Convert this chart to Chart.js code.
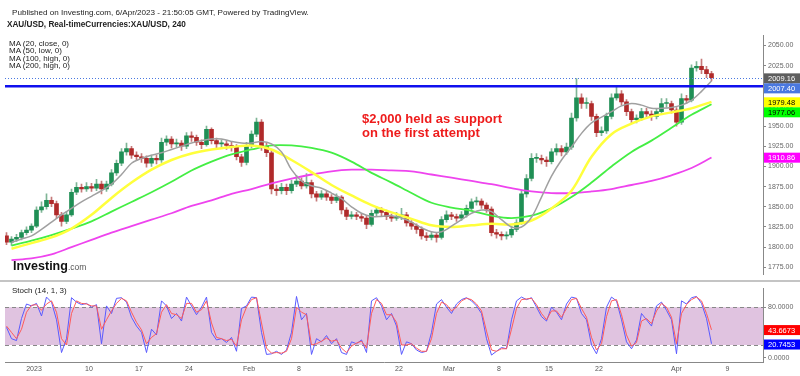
<!DOCTYPE html>
<html>
<head>
<meta charset="utf-8">
<script src="https://cdn.jsdelivr.net/npm/chart.js@4.4.0/dist/chart.umd.min.js"></script>
<style>
  body { margin: 0; background: #fff; width: 800px; height: 376px; overflow: hidden; position: relative; font-family: "Liberation Sans", Arial, sans-serif; }
  canvas { position: absolute; left: 0; }
  .t { position: absolute; white-space: nowrap; color: #222; }
  .ma { font-size: 8px; line-height: 7.3px; }
  .note { color: #ee1c1c; font-weight: bold; font-size: 13px; line-height: 14.3px; }
  .sep { position: absolute; left: 0; top: 280px; width: 800px; height: 2px; background: #c4c4c4; }
</style>
</head>
<body>
<canvas id="main" width="800" height="281" style="top:0"></canvas>
<div class="sep"></div>
<canvas id="stoch" width="800" height="94" style="top:282px"></canvas>

<div class="t" style="left:12px;top:8px;font-size:8.1px">Published on Investing.com, 6/Apr/2023 - 21:50:05 GMT, Powered by TradingView.</div>
<div class="t" style="left:7px;top:20px;font-size:8.2px;font-weight:bold">XAU/USD, Real-timeCurrencies:XAU/USD, 240</div>
<div class="t ma" style="left:9px;top:40px">MA (20, close, 0)<br>MA (50, low, 0)<br>MA (100, high, 0)<br>MA (200, high, 0)</div>
<div class="t note" style="left:362px;top:112px">$2,000 held as support<br>on the first attempt</div>
<div class="t" style="left:13px;top:259px;font-size:12.5px;font-weight:bold;color:#111">Investing<span style="font-size:8.5px;font-weight:normal;color:#555">.com</span></div>
<div class="t" style="left:12px;top:286px;font-size:8px">Stoch (14, 1, 3)</div>

<script>
// 12h candles (index 0 = 29 Dec 2022 ... 141 = 6 Apr 2023)
const firstOpen = 1814;
const closes = [1806,1810,1812,1818,1821,1826,1846,1850,1858,1854,
  1840,1832,1840,1868,1874,1872,1875,1873,1878,1872,
  1878,1892,1904,1918,1922,1914,1912,1910,1904,1910,
  1908,1930,1934,1928,1929,1925,1938,1936,1930,1927,
  1946,1932,1928,1928,1926,1924,1912,1905,1926,1940,
  1955,1925,1917,1872,1870,1874,1870,1878,1882,1876,
  1880,1866,1862,1866,1862,1858,1862,1846,1838,1840,
  1838,1836,1828,1842,1846,1843,1838,1836,1838,1840,
  1830,1826,1822,1814,1812,1815,1812,1834,1840,1838,
  1836,1840,1848,1856,1857,1852,1847,1818,1816,1814,
  1815,1822,1830,1866,1885,1910,1910,1908,1906,1918,
  1922,1918,1924,1960,1985,1978,1978,1962,1942,1944,
  1962,1985,1990,1980,1968,1958,1960,1968,1965,1962,
  1968,1978,1978,1970,1955,1984,1982,2022,2024,2020,
  2015,2010];
const highs = [1818,1813,1816,1821,1825,1829,1850,1856,1866,1862,
  1857,1843,1844,1872,1880,1878,1880,1879,1884,1882,
  1882,1896,1908,1922,1929,1925,1918,1916,1913,1914,
  1914,1935,1938,1937,1934,1932,1942,1943,1939,1933,
  1950,1948,1935,1933,1932,1930,1927,1915,1930,1944,
  1960,1958,1929,1920,1877,1879,1878,1883,1889,1886,
  1891,1883,1869,1870,1869,1865,1866,1864,1849,1844,
  1843,1842,1839,1846,1850,1849,1846,1841,1843,1848,
  1843,1833,1829,1825,1818,1819,1818,1838,1845,1843,
  1841,1844,1852,1860,1862,1860,1855,1850,1822,1819,
  1819,1826,1834,1870,1890,1916,1916,1914,1912,1922,
  1928,1926,1929,1966,2009,1990,1985,1981,1965,1949,
  1966,1990,2000,1994,1983,1971,1964,1972,1972,1969,
  1972,1984,1984,1981,1973,1990,1988,2026,2030,2033,
  2024,2018];
const lows = [1803,1802,1807,1809,1815,1818,1824,1843,1847,1850,
  1836,1826,1829,1838,1865,1868,1869,1869,1870,1866,
  1869,1876,1889,1901,1914,1910,1907,1905,1899,1900,
  1903,1905,1926,1923,1924,1920,1922,1931,1926,1922,
  1925,1928,1923,1924,1921,1919,1908,1900,1902,1923,
  1937,1920,1912,1866,1864,1866,1865,1867,1875,1872,
  1873,1861,1857,1859,1858,1854,1855,1841,1834,1835,
  1834,1832,1823,1826,1839,1839,1834,1832,1833,1834,
  1826,1822,1817,1810,1808,1809,1806,1810,1831,1834,
  1832,1833,1837,1845,1852,1848,1843,1814,1811,1809,
  1810,1812,1819,1828,1862,1882,1905,1903,1900,1903,
  1914,1913,1915,1921,1956,1972,1972,1957,1937,1938,
  1941,1959,1982,1976,1963,1953,1954,1957,1960,1957,
  1959,1965,1973,1966,1950,1952,1978,1980,2018,2015,
  2010,2006];

// moving averages: ma20 one value per day, the others one per two days
const ma20 = [1806,1810,1814,1822,1831,1840,1848,1856,1863,1870,
  1878,1890,1904,1910,1914,1917,1921,1925,1929,1932,
  1934,1934,1931,1929,1929,1931,1928,1918,1896,1882,
  1876,1873,1867,1860,1850,1842,1838,1838,1839,1836,
  1831,1824,1819,1819,1826,1834,1842,1846,1844,1834,
  1825,1825,1837,1862,1888,1908,1924,1941,1954,1961,
  1968,1975,1978,1976,1972,1972,1973,1976,1982,1993,
  2006];
const ma50 = [1798,1805,1812,1823,1840,1861,1880,1896,1908,1916,
  1921,1924,1926,1921,1908,1893,1877,1864,1852,1843,
  1835,1827,1825,1827,1829,1828,1833,1848,1870,1912,
  1940,1953,1962,1967,1972,1980];
const ma100 = [1802,1808,1815,1823,1832,1844,1856,1868,1881,1895,
  1906,1915,1921,1926,1926,1923,1917,1906,1892,1880,
  1867,1855,1849,1845,1839,1836,1839,1848,1862,1880,
  1900,1918,1932,1948,1964,1977];
const ma200 = [1784,1786,1791,1800,1809,1818,1826,1834,1842,1851,
  1858,1866,1872,1879,1885,1890,1894,1896,1896,1895,
  1894,1890,1886,1882,1878,1873,1869,1867,1867,1869,
  1872,1877,1882,1889,1898,1911];

// Stoch (14, 1, 3)
const stochK = [48,30,27,62,85,82,86,66,96,88,
  60,8,30,95,88,84,86,80,84,22,
  82,70,94,95,88,64,50,40,8,45,
  36,90,82,62,70,58,96,82,68,80,
  96,40,28,30,24,32,10,78,82,96,
  95,40,5,6,10,5,12,40,97,60,
  70,5,30,25,35,22,30,8,5,25,
  22,28,8,90,95,82,60,70,50,5,
  25,22,12,8,10,40,85,92,80,70,
  85,92,95,90,82,70,30,4,10,16,
  14,60,90,96,92,95,80,65,58,80,
  72,60,85,96,94,70,60,20,6,30,
  80,96,90,60,25,14,28,70,60,50,
  82,88,75,60,6,90,85,95,97,86,
  62,22];
const stochD = [50,40,30,45,72,83,84,75,85,90,
  72,30,20,70,90,86,85,82,82,45,
  60,74,86,94,90,72,56,44,22,32,
  38,72,84,70,68,62,86,86,72,76,
  90,55,32,30,27,29,18,60,80,92,
  95,55,15,7,8,7,10,30,80,72,
  68,20,22,26,31,26,28,15,8,18,
  23,26,15,70,92,86,68,68,56,20,
  20,22,15,10,10,30,70,88,84,74,
  80,90,94,92,85,74,42,12,10,14,
  14,45,78,92,93,94,84,70,60,74,
  74,64,78,92,94,78,64,32,12,22,
  65,90,92,68,36,18,24,58,62,54,
  74,86,80,64,22,70,84,92,96,90,
  70,44];

// date axis (positions in candle index units)
const tickLabels = ['2023','10','17','24','Feb','8','15','22','Mar','8','15','22','Apr','9'];
const tickIndex = [5.5,16.5,26.5,36.5,48.5,58.5,68.5,78.5,88.5,98.5,108.5,118.5,134,144.2];

const lastPrice = 2009.16;
const supportLine = 1999.5;
const supportLabel = 2007.40;
const ma50Last = 1979.48;
const ma100Last = 1977.06;
const ma200Last = 1910.86;
const stochDLast = 43.6673;
const stochKLast = 20.7453;

Chart.defaults.font.family = '"Liberation Sans", Arial, sans-serif';

const xMin = -0.3, xMax = 151.3;
const opens = closes.map((c, i) => i === 0 ? firstOpen : closes[i - 1]);
const up = i => closes[i] >= opens[i];
const maPoints = (arr, step) => arr.map((v, j) => ({ x: 1 + step * j, y: v }));

function drawTags(chart, tags) {
  const { ctx } = chart;
  const y = chart.scales.y;
  const placed = tags.map(t => ({ ...t, py: y.getPixelForValue(t.value) })).sort((a, b) => a.py - b.py);
  let prev = -100;
  ctx.save();
  ctx.font = '7.5px "Liberation Sans", Arial, sans-serif';
  ctx.textBaseline = 'middle';
  placed.forEach(t => {
    if (t.py < prev + 10) t.py = prev + 10;
    prev = t.py;
    ctx.fillStyle = t.bg;
    ctx.fillRect(y.left + 1, t.py - 5, 36, 10);
    ctx.fillStyle = t.fg;
    ctx.fillText(t.value.toFixed(t.digits), y.left + 5, t.py + 0.5);
  });
  ctx.restore();
}

const mainOverlay = {
  id: 'mainOverlay',
  afterDatasetsDraw(chart) {
    const { ctx, chartArea: a } = chart;
    const y = chart.scales.y;
    ctx.save();
    ctx.strokeStyle = '#4a78e0';
    ctx.lineWidth = 1;
    ctx.setLineDash([1, 2]);
    let py = Math.round(y.getPixelForValue(lastPrice)) + 0.5;
    ctx.beginPath(); ctx.moveTo(a.left, py); ctx.lineTo(a.right, py); ctx.stroke();
    ctx.setLineDash([]);
    ctx.strokeStyle = '#1010ee';
    ctx.lineWidth = 2.5;
    py = y.getPixelForValue(supportLine);
    ctx.beginPath(); ctx.moveTo(a.left, py); ctx.lineTo(a.right, py); ctx.stroke();
    ctx.restore();
  },
  afterDraw(chart) {
    drawTags(chart, [
      { value: lastPrice, digits: 2, bg: '#5e5e5e', fg: '#fff' },
      { value: supportLabel, digits: 2, bg: '#4a78e0', fg: '#fff' },
      { value: ma50Last, digits: 2, bg: '#ffff00', fg: '#000' },
      { value: ma100Last, digits: 2, bg: '#00ff00', fg: '#000' },
      { value: ma200Last, digits: 2, bg: '#ff00ff', fg: '#fff' }
    ]);
  }
};

const maLine = (data, color, width, order) => ({
  type: 'line', data, borderColor: color, borderWidth: width,
  pointRadius: 0, tension: 0.35, fill: false, order
});

new Chart(document.getElementById('main'), {
  type: 'bar',
  data: {
    datasets: [
      maLine(maPoints(ma20, 2), '#a0a0a0', 1.5, 1),
      maLine(maPoints(ma50, 4), '#ffff3c', 2.5, 2),
      maLine(maPoints(ma100, 4), '#44ee44', 1.8, 3),
      maLine(maPoints(ma200, 4), '#ee44ee', 1.8, 4),
      {
        data: closes.map((c, i) => ({ x: i, y: [opens[i], c] })),
        backgroundColor: ctx => up(ctx.dataIndex) ? '#1f8f55' : '#b02a2a',
        barThickness: 4, minBarLength: 1, grouped: false, order: 5
      },
      {
        data: closes.map((c, i) => ({ x: i, y: [lows[i], highs[i]] })),
        backgroundColor: ctx => up(ctx.dataIndex) ? '#7fb596' : '#c57a7a',
        barThickness: 1, grouped: false, order: 6
      }
    ]
  },
  options: {
    responsive: false,
    animation: false,
    layout: { padding: { left: 5, top: 35, right: 0, bottom: 0 } },
    plugins: { legend: { display: false }, tooltip: { enabled: false } },
    scales: {
      x: { type: 'linear', min: xMin, max: xMax, offset: false, display: false },
      y: {
        position: 'right', min: 1765.7, max: 2062.9,
        afterFit: s => { s.width = 37; },
        ticks: { stepSize: 25, includeBounds: false, padding: 2, color: '#666', font: { size: 7 }, callback: v => v.toFixed(2) },
        grid: { drawOnChartArea: false, tickLength: 3, color: '#888' },
        border: { color: '#888' }
      }
    }
  },
  plugins: [mainOverlay]
});

const stochOverlay = {
  id: 'stochOverlay',
  beforeDatasetsDraw(chart) {
    const { ctx, chartArea: a } = chart;
    const y = chart.scales.y;
    const y80 = y.getPixelForValue(80), y20 = y.getPixelForValue(20);
    ctx.save();
    ctx.fillStyle = '#e0c3e0';
    ctx.fillRect(a.left, y80, a.right - a.left, y20 - y80);
    ctx.strokeStyle = '#888';
    ctx.lineWidth = 1;
    ctx.setLineDash([4, 3]);
    [y80, y20].forEach(p => {
      const py = Math.round(p) + 0.5;
      ctx.beginPath(); ctx.moveTo(a.left, py); ctx.lineTo(a.right, py); ctx.stroke();
    });
    ctx.restore();
  },
  afterDraw(chart) {
    drawTags(chart, [
      { value: stochDLast, digits: 4, bg: '#ff0000', fg: '#fff' },
      { value: stochKLast, digits: 4, bg: '#0000ff', fg: '#fff' }
    ]);
  }
};

const stochLine = (data, color) => ({
  type: 'line', data: data.map((v, i) => ({ x: i, y: v })),
  borderColor: color, borderWidth: 1, pointRadius: 0, tension: 0, fill: false
});

new Chart(document.getElementById('stoch'), {
  type: 'line',
  data: { datasets: [stochLine(stochD, '#ff5a5a'), stochLine(stochK, '#5a5aff')] },
  options: {
    responsive: false,
    animation: false,
    layout: { padding: { left: 5, top: 1, right: 0, bottom: 0 } },
    plugins: { legend: { display: false }, tooltip: { enabled: false } },
    scales: {
      x: {
        type: 'linear', min: xMin, max: xMax, offset: false,
        afterFit: s => { s.height = 14; },
        afterBuildTicks: s => { s.ticks = tickIndex.map(v => ({ value: v })); },
        ticks: { autoSkip: false, maxRotation: 0, padding: 2.5, color: '#555', font: { size: 7 }, callback: (v, i) => tickLabels[i] },
        grid: { display: false, drawTicks: false },
        border: { color: '#888' }
      },
      y: {
        position: 'right', min: -7, max: 110.1,
        afterFit: s => { s.width = 37; },
        afterBuildTicks: s => { s.ticks = [{ value: 0 }, { value: 80 }]; },
        ticks: { padding: 2, color: '#666', font: { size: 7 }, callback: v => v.toFixed(4) },
        grid: { drawOnChartArea: false, tickLength: 3, color: '#888' },
        border: { color: '#888' }
      }
    }
  },
  plugins: [stochOverlay]
});
</script>
</body>
</html>
